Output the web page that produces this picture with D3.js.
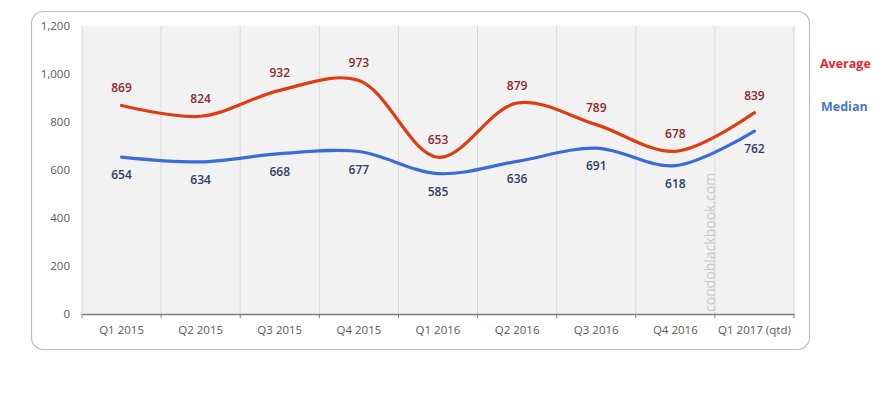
<!DOCTYPE html>
<html>
<head>
<meta charset="utf-8">
<script src="https://cdn.jsdelivr.net/npm/d3@7"></script>
<style>
  body { margin: 0; background: #fff; }
  svg text { font-family: "Open Sans", "DejaVu Sans", sans-serif; }
</style>
</head>
<body>
<div id="chart"></div>
<script>
const quarters = ['Q1 2015', 'Q2 2015', 'Q3 2015', 'Q4 2015', 'Q1 2016', 'Q2 2016', 'Q3 2016', 'Q4 2016', 'Q1 2017 (qtd)'];
const averageValues = [869, 824, 932, 973, 653, 879, 789, 678, 839];
const medianValues = [654, 634, 668, 677, 585, 636, 691, 618, 762];
const yTicks = [0, 200, 400, 600, 800, 1000, 1200];

const W = 886, H = 394;
const margin = { top: 26, right: 92, bottom: 80, left: 82 },
      width = W - margin.left - margin.right,
      height = H - margin.top - margin.bottom;

const svg = d3.select("#chart")
              .append("svg")
              .attr("width", W)
              .attr("height", H);

// rounded frame round the chart
svg.append("rect")
   .attr("x", 31.5).attr("y", 11.5)
   .attr("width", 778).attr("height", 338)
   .attr("rx", 12)
   .attr("fill", "#fff")
   .attr("stroke", "#bfbfbf")
   .attr("stroke-width", 1.2);

const g = svg.append("g")
             .attr("transform", `translate(${margin.left},${margin.top})`);

const x = d3.scaleBand()
            .domain(quarters)
            .range([0, width]);

const y = d3.scaleLinear()
            .domain([0, 1200])
            .range([height, 0]);

// plot background
g.append("rect")
 .attr("width", width)
 .attr("height", height)
 .attr("fill", "#f2f2f2");

// vertical gridlines at band edges
const edges = quarters.map(q => x(q)).concat([width]);
g.selectAll(".vgrid")
 .data(edges)
 .enter()
 .append("line")
 .attr("x1", d => d).attr("x2", d => d)
 .attr("y1", 0).attr("y2", height)
 .attr("stroke", "#d9d9d9")
 .attr("stroke-width", 1);

// x axis
const xAxis = g.append("g")
               .attr("transform", `translate(0,${height})`)
               .call(d3.axisBottom(x).tickSize(0).tickPadding(12));
xAxis.select(".domain").attr("stroke", "#7f7f7f").attr("stroke-width", 1.3);
xAxis.selectAll("text").attr("fill", "#595959").style("font-size", "11.5px");
g.selectAll(".xtick")
 .data(edges)
 .enter()
 .append("line")
 .attr("x1", d => d).attr("x2", d => d)
 .attr("y1", height).attr("y2", height + 4)
 .attr("stroke", "#7f7f7f");

// y axis labels only
const yAxis = g.append("g")
               .call(d3.axisLeft(y).tickValues(yTicks).tickSize(0).tickPadding(12).tickFormat(d3.format(",")));
yAxis.select(".domain").remove();
yAxis.selectAll("text").attr("fill", "#595959").style("font-size", "11.5px");

// watermark
g.append("text")
 .attr("transform", `translate(${x('Q1 2017 (qtd)') - 5},${height - 2}) rotate(-90)`)
 .attr("dy", "0.35em")
 .attr("fill", "#c9c9c9")
 .style("font-size", "14px")
 .text("condoblackbook.com");

const cx = d => x(d) + x.bandwidth() / 2;

const line = d3.line()
               .x((d, i) => cx(quarters[i]))
               .y(d => y(d))
               .curve(d3.curveCatmullRom.alpha(0.5));

g.append("path")
 .datum(medianValues)
 .attr("fill", "none")
 .attr("stroke", "#3a6cd6")
 .attr("stroke-width", 3.2)
 .attr("stroke-linecap", "round")
 .attr("d", line);

g.append("path")
 .datum(averageValues)
 .attr("fill", "none")
 .attr("stroke", "#e03c14")
 .attr("stroke-width", 3.2)
 .attr("stroke-linecap", "round")
 .attr("d", line);

// data labels
g.selectAll(".avgLabel")
 .data(averageValues)
 .enter()
 .append("text")
 .attr("x", (d, i) => cx(quarters[i]))
 .attr("y", d => y(d) - 13)
 .attr("text-anchor", "middle")
 .attr("fill", "#8c2a2a")
 .style("font-size", "12px")
 .style("font-weight", "600")
 .text(d => d);

g.selectAll(".medLabel")
 .data(medianValues)
 .enter()
 .append("text")
 .attr("x", (d, i) => cx(quarters[i]))
 .attr("y", d => y(d) + 22)
 .attr("text-anchor", "middle")
 .attr("fill", "#2e3e66")
 .style("font-size", "12px")
 .style("font-weight", "600")
 .text(d => d);

// legend
svg.append("text")
   .attr("x", 820).attr("y", 68)
   .attr("fill", "#e8242c")
   .style("font-size", "12.5px")
   .style("font-weight", "bold")
   .text("Average");

svg.append("text")
   .attr("x", 821).attr("y", 111)
   .attr("fill", "#4a78c8")
   .style("font-size", "12.5px")
   .style("font-weight", "bold")
   .text("Median");
</script>
</body>
</html>
